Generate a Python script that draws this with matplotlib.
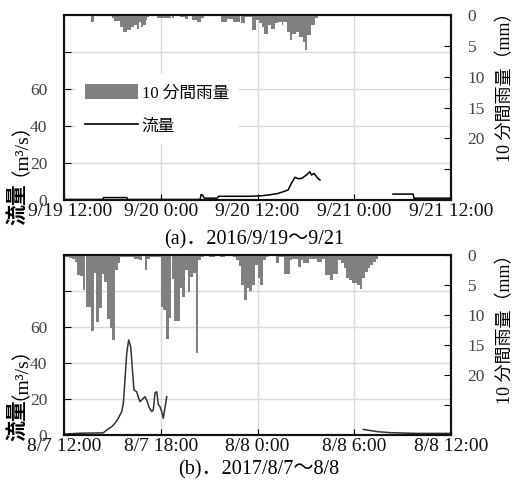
import numpy as np
import pandas as pd
import matplotlib
matplotlib.use('Agg')
import matplotlib.pyplot as plt
import matplotlib.dates as mdates
import matplotlib.transforms as mtransforms
from matplotlib.patches import Patch
from matplotlib.lines import Line2D

plt.rcParams['font.family'] = ['Liberation Serif', 'Noto Sans CJK JP']

# ---- (a) 2016/9/19 - 9/21 ----
start_a = pd.Timestamp('2016-09-19 12:00')
# 10-minute rainfall (mm), 48 h
rain_a = [
    0, 0, 0, 0, 0, 0, 0, 0, 0, 0, 0, 0,
    0, 0, 0, 0, 0, 0, 0, 0, 1.2, 1.2, 0, 0,
    0, 0, 0, 0, 0, 0, 0, 0, 0, 0, 0, 0,
    0.5, 1.0, 1.0, 1.0, 1.0, 1.0, 1.9, 1.9, 2.7, 2.7, 2.7, 2.4,
    2.4, 2.4, 1.9, 1.9, 1.6, 1.6, 2.2, 2.2, 1.1, 1.9, 1.9, 1.6,
    1.6, 0.8, 0.3, 0, 0, 0, 0, 0, 0, 0.5, 0.5, 0.5,
    0.5, 0.5, 0.5, 0.5, 0.5, 0.5, 0.5, 0.5, 0.5, 0.5, 0, 0,
    0, 0, 0.3, 0.3, 0.3, 0.3, 0.7, 0.7, 0, 0, 0, 0.8,
    0.8, 0.8, 0.8, 1.2, 1.2, 1.2, 0.5, 0.5, 0, 0, 0, 0,
    0, 0, 0, 0, 0, 0, 0, 0, 0, 1.1, 1.1, 1.1,
    1.1, 0.7, 0.7, 0.7, 0.7, 0.7, 1.1, 1.1, 1.1, 1.1, 1.1, 0,
    1.35, 1.35, 1.35, 0.3, 0.3, 0.3, 0.3, 0.3, 2.4, 2.4, 2.4, 0.8,
    0.8, 1.35, 1.35, 1.9, 1.9, 3.0, 3.0, 3.0, 1.6, 1.6, 2.2, 2.2,
    2.2, 1.35, 1.35, 1.1, 1.1, 1.1, 1.6, 1.1, 1.1, 1.1, 2.7, 2.7,
    4.05, 4.05, 3.0, 3.0, 3.0, 2.7, 2.7, 3.5, 3.5, 3.5, 4.3, 5.7,
    5.7, 3.2, 3.2, 3.2, 1.6, 1.6, 1.6, 0.5, 0.5, 0, 0, 0,
] + [0.0] * 96
# discharge (m3/s), hours from start; nan = missing
flow_a_hours = [0, 4.8, 4.9, 7.8, 7.9, 16.9, 17.0, 17.2, 17.4, 19.0, 19.2,
                23.1, 24.5, 25.5, 26.5, 27.2, 27.8, 28.2, 28.65, 29.06, 29.5,
                29.9, 30.3, 30.5, 30.7, 31.0, 31.3, 31.5, 31.75, 31.8,
                40.8, 43.3, 43.4, 48.0]
flow_a = [0.3, 0.3, 1.3, 1.3, 0.3, 0.3, 3.0, 2.5, 1.0, 1.0, 2.0,
          2.0, 2.3, 2.8, 3.5, 4.5, 5.4, 9.0, 12.3, 11.5, 11.7,
          13.0, 14.4, 15.3, 13.5, 14.4, 12.8, 11.7, 10.8, np.nan,
          3.2, 3.2, 1.0, 1.0]
ticks_a = [0, 12, 24, 36, 48]
labels_a = ['9/19 12:00', '9/20 0:00', '9/20 12:00', '9/21 0:00', '9/21 12:00']

# ---- (b) 2017/8/7 - 8/8 ----
start_b = pd.Timestamp('2017-08-07 12:00')
rain_b = [
    0.3, 0.4, 0.5, 0.7, 1.1, 3.3, 3.5, 5.8, 8.6, 8.6, 12.7, 3.0,
    11.1, 8.9, 3.1, 4.5, 10.6, 12.2, 14.2, 2.5, 1.4, 0.3, 0.3, 0.3,
    0.3, 0.3, 0.6, 0.6, 0.8, 0.2, 2.5, 0.6, 0.3, 0.3, 0.3, 0.3,
    8.7, 9.2, 14.0, 10.5, 4.0, 11.0, 11.0, 5.5, 7.0, 2.5, 6.2, 3.7,
    3.0, 16.3, 0.8, 0.3, 0.1, 0, 0.4, 0.4, 0.1, 0, 0.4, 0.4,
    0.1, 0, 0, 0.3, 0.8, 1.9, 5.0, 7.5, 5.5, 6.0, 5.0, 1.7,
    3.9, 5.0, 0.9, 0.3, 0.1, 0.1, 0.1, 1.4, 0.3, 0.3, 3.1, 3.1,
    0.8, 0.6, 0.6, 2.0, 0.8, 1.4, 1.4, 0.6, 0.6, 0.6, 1.1, 1.1,
    0.6, 3.3, 3.3, 4.2, 3.1, 3.1, 0.8, 1.4, 2.2, 3.9, 4.2, 4.7,
    4.7, 5.0, 5.6, 3.9, 2.8, 2.2, 1.7, 1.1, 0.6, 0.2, 0, 0,
    0, 0, 0, 0, 0, 0, 0, 0, 0, 0, 0, 0,
    0, 0, 0, 0, 0, 0, 0, 0, 0, 0, 0, 0,
]
flow_b_hours = [0, 1.0, 2.44, 2.65, 2.96, 3.16, 3.37, 3.58, 3.68, 3.78, 3.89,
                4.01, 4.14, 4.26, 4.34, 4.51, 4.61, 4.71, 4.88, 5.02, 5.17,
                5.29, 5.44, 5.54, 5.64, 5.75, 5.85, 5.95, 6.06, 6.16, 6.26,
                6.37, 6.4, 18.56, 19.39, 20.22, 21.87, 23.94]
flow_b = [0.5, 1.0, 1.2, 2.8, 4.6, 6.5, 9.3, 13.0, 17.6, 30.5, 45.4,
          52.8, 49.0, 34.3, 25.0, 24.0, 21.0, 18.5, 20.0, 21.3, 18.5,
          15.0, 13.0, 14.0, 23.3, 24.0, 17.0, 15.7, 13.0, 9.3, 15.0,
          21.3, np.nan, 3.1, 1.9, 1.3, 0.9, 0.9]
ticks_b = [0, 6, 12, 18, 24]
labels_b = ['8/7 12:00', '8/7 18:00', '8/8 0:00', '8/8 6:00', '8/8 12:00']

BAR_GRAY = '#808080'


def to_num(start, hours):
    return mdates.date2num(start + pd.to_timedelta(np.asarray(hours, dtype=float), unit='h'))


def draw_panel(ax, start, span, rain, fh, fv, ticks, tick_labels, line_color):
    ax2 = ax.twinx()
    t_rain = to_num(start, np.arange(len(rain)) / 6.0)
    ax2.bar(t_rain, rain, width=1 / 144, align='edge', color=BAR_GRAY, linewidth=0)
    ax.plot(to_num(start, fh), fv, color=line_color, lw=1.1)

    x0, x1 = to_num(start, [0, span])
    ax.set_xlim(x0, x1)
    ax.set_ylim(0, 100)
    ax2.set_ylim(30, 0)

    ax.set_xticks(to_num(start, ticks))
    ax.set_xticklabels(tick_labels, fontsize=14, color='#111111')
    ax.set_yticks([0, 20, 40, 60, 80])
    ax.set_yticklabels(['0', '20', '40', '60', ''], fontsize=12.5, color='#444444')
    ax2.set_yticks([0, 5, 10, 15, 20, 25])
    ax2.set_yticklabels(['0', '5', '10', '15', '20', ''], fontsize=12.5, color='#444444')

    ax.grid(True, color='#d9d9d9', lw=1)
    ax.tick_params(axis='x', direction='in', length=4, pad=2)
    ax.tick_params(axis='y', direction='in', length=5, pad=12)
    ax2.tick_params(axis='y', direction='in', length=5, pad=12)
    for a in (ax, ax2):
        for s in a.spines.values():
            s.set_linewidth(1.5)
            s.set_color('#111111')
    return ax2


fig = plt.figure(figsize=(5.14, 4.84), dpi=100)
ax_a = fig.add_axes([64 / 514, 1 - 200 / 484, 387 / 514, 185 / 484])
ax_b = fig.add_axes([64 / 514, 1 - 435 / 484, 387 / 514, 180 / 484])

ax2_a = draw_panel(ax_a, start_a, 48, rain_a, flow_a_hours, flow_a, ticks_a, labels_a, 'black')
ax2_b = draw_panel(ax_b, start_b, 24, rain_b, flow_b_hours, flow_b, ticks_b, labels_b, '#333333')

# nudge the first date label of (a) a little to the right
first = ax_a.get_xticklabels()[0]
first.set_transform(first.get_transform() +
                    mtransforms.ScaledTranslation(6 / 100, 0, fig.dpi_scale_trans))

# axis titles
for ax, ax2, y_kanji, y_unit, y_right in [(ax_a, ax2_a, -0.02, 0.33, 0.632),
                                          (ax_b, ax2_b, 0.08, 0.40, 0.61)]:
    ax.text(-0.121, y_kanji, '流量', transform=ax.transAxes, rotation=90,
            ha='center', va='center', fontsize=15, fontweight='bold',
            family=['Noto Sans CJK JP'])
    ax.text(-0.138, y_unit, '（m³/s）', transform=ax.transAxes, rotation=90,
            ha='center', va='center', fontsize=14)
    ax.text(1.14, y_right, '10 分間雨量（mm）', transform=ax.transAxes, rotation=90,
            ha='center', va='center', fontsize=13)

legend_handles = [Patch(facecolor=BAR_GRAY, edgecolor='none', label='10 分間雨量'),
                  Line2D([], [], color='black', lw=1.2, label='流量')]
leg = ax2_a.legend(handles=legend_handles, loc='upper left', bbox_to_anchor=(0.028, 0.68),
                   borderaxespad=0, borderpad=0.6, frameon=True, fancybox=False,
                   framealpha=1, edgecolor='none', fontsize=12, handlelength=3.2,
                   handleheight=1.0, handletextpad=0.2, labelspacing=0.95)

fig.text(254 / 514, 1 - 240 / 484, '(a)．2016/9/19～9/21', ha='center', va='center', fontsize=14.5)
fig.text(259 / 514, 1 - 470 / 484, '(b)．2017/8/7～8/8', ha='center', va='center', fontsize=14.5)

fig.savefig('out.png', dpi=100)
